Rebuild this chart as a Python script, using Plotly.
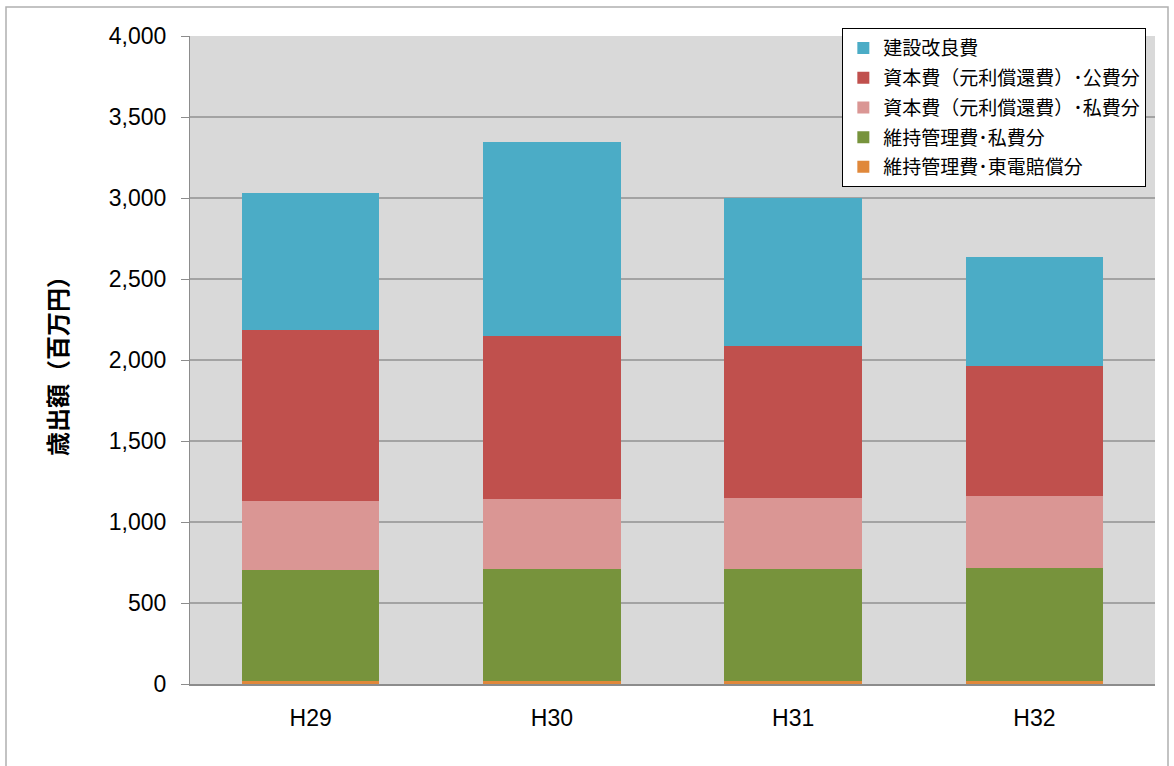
import plotly.graph_objects as go

# 年度別の歳出額(百万円)
years = ["H29", "H30", "H31", "H32"]

tokyo_compensation = [18, 18, 18, 20]      # 維持管理費・東電賠償分
maintenance_private = [686, 690, 694, 698]  # 維持管理費・私費分
capital_private = [426, 434, 436, 442]      # 資本費(元利償還費)・私費分
capital_public = [1055, 1008, 938, 805]     # 資本費(元利償還費)・公費分
construction = [844, 1194, 916, 669]        # 建設改良費

y_ticks = [0, 500, 1000, 1500, 2000, 2500, 3000, 3500, 4000]

# stacked bottom to top; legend rank lists the top segment first
series = [
    ("維持管理費･東電賠償分", tokyo_compensation, "#E0883A", 5),
    ("維持管理費･私費分", maintenance_private, "#77933C", 4),
    ("資本費（元利償還費）･私費分", capital_private, "#DA9694", 3),
    ("資本費（元利償還費）･公費分", capital_public, "#C0504D", 2),
    ("建設改良費", construction, "#4BACC6", 1),
]

jp_font = "Noto Sans CJK JP"
num_font = "Liberation Sans, Arial, sans-serif"

fig = go.Figure()
for name, values, color, rank in series:
    fig.add_trace(go.Bar(
        x=years, y=values, name=name, legendgroup=name, legendrank=rank,
        marker=dict(color=color, line=dict(width=0)),
    ))

fig.update_layout(
    width=1174, height=766,
    barmode="stack",
    bargap=0.43,
    paper_bgcolor="white",
    plot_bgcolor="#D9D9D9",
    margin=dict(l=190, r=19, t=36, b=82),
    font=dict(family=jp_font, size=20, color="#000000"),
    showlegend=True,
    legend=dict(
        traceorder="grouped",
        tracegroupgap=2,
        x=0.676, y=1.012, xanchor="left", yanchor="top",
        bgcolor="white", bordercolor="#000000", borderwidth=1,
        font=dict(family=jp_font, size=19, color="#000000"),
        itemwidth=30,
    ),
    xaxis=dict(
        showgrid=False,
        showline=True, linecolor="#8C8C8C", linewidth=2,
        ticks="", tickfont=dict(family=num_font, size=23),
        ticklabelstandoff=12,
    ),
    yaxis=dict(
        range=[0, 4000],
        tickvals=y_ticks,
        ticktext=[f"{v:,}" for v in y_ticks],
        showgrid=True, gridcolor="#A3A3A3", gridwidth=2,
        showline=True, linecolor="#8C8C8C", linewidth=1,
        ticks="outside", ticklen=8, tickcolor="#8C8C8C",
        tickfont=dict(family=num_font, size=23),
        ticklabelstandoff=10,
        zeroline=False,
        title=dict(text="<b>歳出額（百万円）</b>", font=dict(family=jp_font, size=24), standoff=34),
    ),
    shapes=[dict(
        type="rect", xref="paper", yref="paper",
        x0=-184 / 965, x1=(1168 - 190) / 965,
        y0=-90 / 648, y1=(684 - 7) / 648,
        line=dict(color="#B0B0B0", width=1.5),
        fillcolor="rgba(0,0,0,0)", layer="below",
    )],
)

fig.write_html("out.html")
